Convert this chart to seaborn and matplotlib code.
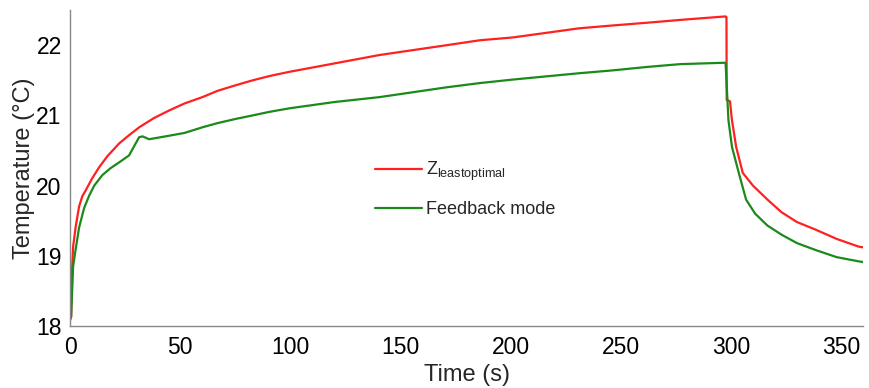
import numpy as np
import pandas as pd
import matplotlib
matplotlib.use("Agg")
import matplotlib.pyplot as plt
import seaborn as sns

# Z_leastoptimal (red)
t_red = [0, 0.5, 0.8, 1.4, 2.6, 4.1, 5.6, 7.1, 10, 13.2, 17, 22.3, 26.5, 31.4, 38, 45, 52,
         60.1, 67, 75.3, 83, 90.5, 99.5, 120, 140.5, 171, 186, 201, 231, 246, 262, 277,
         297.6, 298, 298.1, 299.6, 300.5, 302.4, 305.4, 310, 316.6, 323, 330, 338.6, 348,
         358, 360]
T_red = [18.1, 18.13, 18.73, 19.13, 19.42, 19.7, 19.85, 19.93, 20.1, 20.26, 20.42, 20.6,
         20.71, 20.83, 20.96, 21.07, 21.17, 21.26, 21.35, 21.43, 21.5, 21.56, 21.62, 21.74,
         21.86, 22.0, 22.07, 22.11, 22.24, 22.28, 22.32, 22.36, 22.41, 22.4, 21.22, 21.2,
         20.93, 20.55, 20.18, 20.0, 19.8, 19.62, 19.48, 19.37, 19.24, 19.13, 19.12]

# Feedback mode (green)
t_green = [0, 0.5, 1.4, 2.6, 4.1, 6.4, 8.6, 11, 14.7, 18.5, 22.3, 26.8, 31.4, 33, 35.9, 45,
           52, 60.1, 67, 75.3, 83, 90.5, 99.5, 120, 140.5, 171, 186, 201, 231, 246, 262,
           277, 297.6, 298.9, 300.5, 303.6, 306.9, 311, 316.6, 323, 330, 338.6, 348, 358,
           360]
T_green = [18.08, 18.13, 18.85, 19.1, 19.4, 19.68, 19.85, 20.0, 20.15, 20.25, 20.33,
           20.43, 20.69, 20.7, 20.66, 20.71, 20.75, 20.83, 20.89, 20.95, 21.0, 21.05, 21.1,
           21.19, 21.26, 21.4, 21.46, 21.51, 21.6, 21.64, 21.69, 21.73, 21.75, 20.93, 20.55,
           20.18, 19.8, 19.6, 19.43, 19.3, 19.18, 19.08, 18.98, 18.92, 18.91]

labels = ["Z$_{\\mathregular{leastoptimal}}$", "Feedback mode"]
colors = ["#ff2020", "#1a8a1a"]
xticks = [0, 50, 100, 150, 200, 250, 300, 350]
yticks = [18, 19, 20, 21, 22]

df = pd.concat([
    pd.DataFrame({"Time": t_red, "Temp": T_red, "Series": labels[0]}),
    pd.DataFrame({"Time": t_green, "Temp": T_green, "Series": labels[1]}),
])

sns.set_style("white")
plt.rcParams["font.family"] = ["Liberation Sans", "DejaVu Sans"]
plt.rcParams["mathtext.default"] = "regular"

fig = plt.figure(figsize=(8.7, 3.88), dpi=100)
ax = fig.add_axes([0.0805, 0.160, 0.9115, 0.814])

sns.lineplot(data=df, x="Time", y="Temp", hue="Series", palette=colors,
             sort=False, estimator=None, linewidth=1.6, ax=ax)

ax.set_xlim(0, 360)
ax.set_ylim(18, 22.5)
ax.set_xticks(xticks)
ax.set_yticks(yticks)
ax.set_xlabel("Time (s)", fontsize=17, labelpad=4)
ax.set_ylabel("Temperature (°C)", fontsize=17, labelpad=1)
ax.tick_params(axis="both", direction="in", length=5, width=1, color="#888888",
               labelsize=16.5, labelcolor="black")
ax.tick_params(axis="x", pad=7)
ax.tick_params(axis="y", pad=6)
for s in ["top", "right"]:
    ax.spines[s].set_visible(False)
for s in ["left", "bottom"]:
    ax.spines[s].set_color("#888888")
    ax.spines[s].set_linewidth(1.0)

leg = ax.legend(loc="upper left", bbox_to_anchor=(0.385, 0.525), frameon=False,
                fontsize=13, handlelength=2.6, handletextpad=0.2, labelspacing=1.0,
                borderpad=0, borderaxespad=0)
for line in leg.get_lines():
    line.set_linewidth(1.6)

fig.savefig("out.png", dpi=100)
